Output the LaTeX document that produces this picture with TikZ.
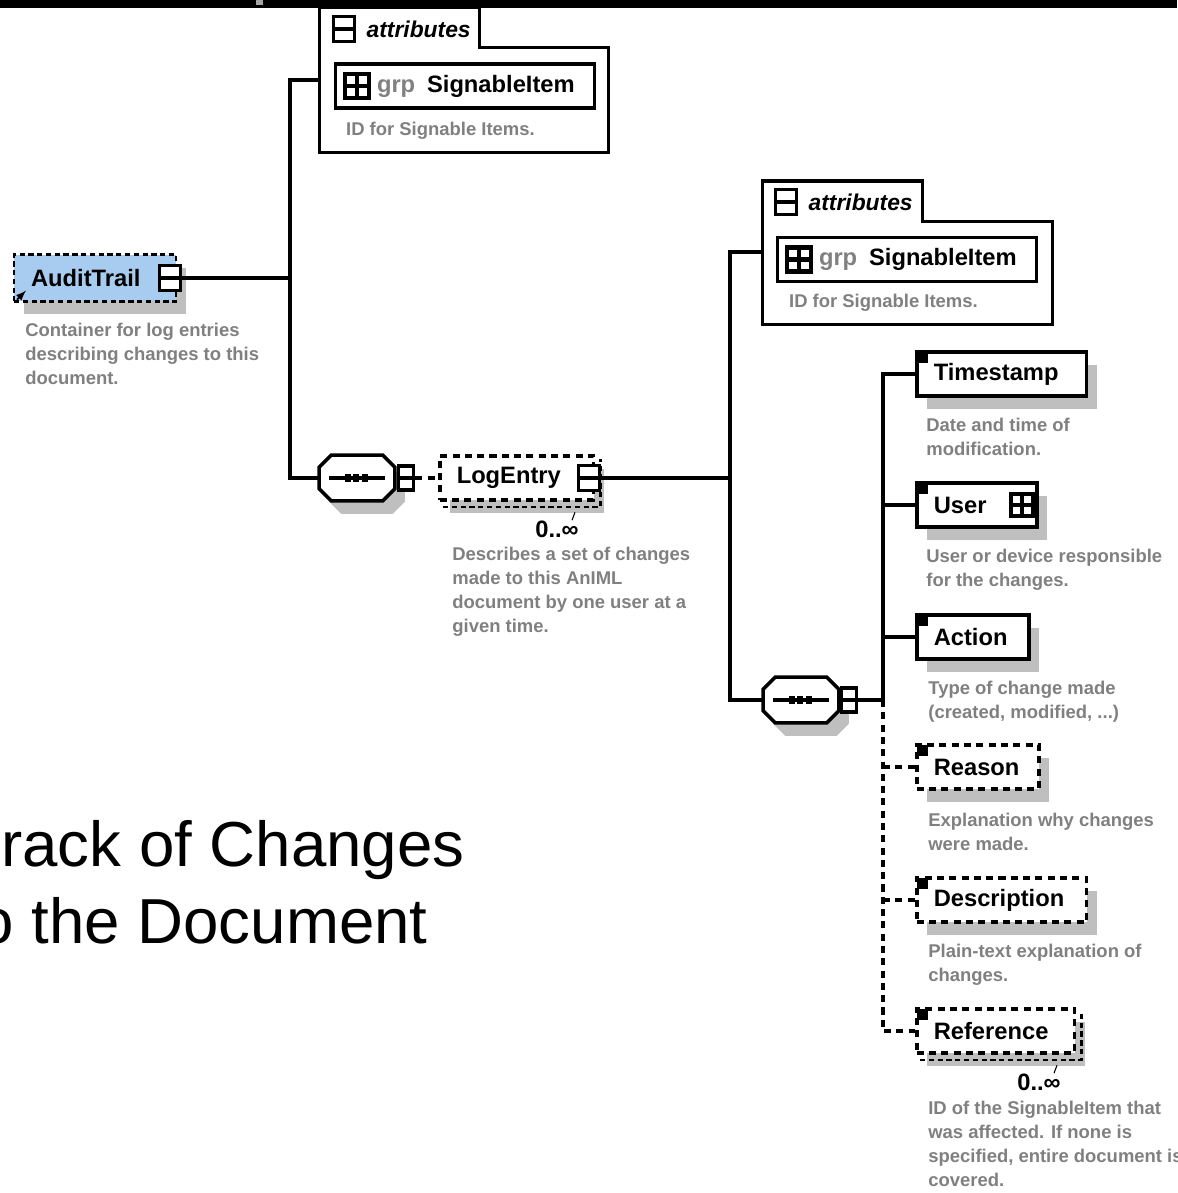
\documentclass[tikz,border=0pt]{standalone}
\usepackage{fontspec}
\setmainfont{Liberation Sans}
\usetikzlibrary{positioning,shadows}
\definecolor{auditblue}{RGB}{168,204,240}
\newcommand\elemfont{\fontsize{13.5}{16}\selectfont\bfseries}
\newcommand\attrfont{\fontsize{13}{15}\selectfont\bfseries\itshape}
\newcommand\descfont{\fontsize{10.5}{13.6}\selectfont\bfseries}
\newcommand\titlefont{\fontsize{36.2}{44}\selectfont}

\begin{document}
\begin{tikzpicture}[x=0.02cm,y=-0.02cm,node distance=0.4cm]
\tikzset{
  conn/.style={line width=2pt},
  optconn/.style={line width=2pt,dash pattern=on 4pt off 3pt},
  boxshadow/.style={drop shadow={shadow xshift=0.2cm,shadow yshift=-0.26cm,fill=black!25,opacity=1}},
  elembox/.style={draw,line width=2pt,fill=white,boxshadow,anchor=west,minimum height=0.88cm,text width=#1,inner xsep=0.34cm,align=left,font=\elemfont},
  optbox/.style={elembox=#1,dash pattern=on 4pt off 3pt},
  flagged/.style={path picture={\fill[black] (path picture bounding box.north west) rectangle ++(0.22cm,-0.22cm);}},
  grpbox/.style={draw,line width=2pt,fill=white,minimum height=0.88cm,text width=4.62cm,inner xsep=0.28cm,align=left,font=\elemfont},
  desc/.style={anchor=north west,inner sep=0pt,align=left,text=black!50,font=\descfont},
  mult/.style={inner sep=0pt,font=\elemfont},
  minusicon/.style={draw,line width=2pt,fill=white,inner sep=0pt,minimum width=0.42cm,minimum height=0.5cm,path picture={\draw[line width=2pt] (path picture bounding box.west) -- (path picture bounding box.east);}},
  plusicon/.style={draw,line width=2.4pt,fill=white,inner sep=0pt,minimum size=0.48cm,path picture={\draw[line width=2.4pt] (path picture bounding box.west) -- (path picture bounding box.east) (path picture bounding box.north) -- (path picture bounding box.south);}},
  seqicon/.style={minusicon,minimum width=0.3cm,minimum height=0.48cm},
  seqbox/.style={inner sep=0pt,minimum width=1.5cm,minimum height=0.9cm},
  attrtab/.style={anchor=south west,inner sep=0pt,minimum width=3.18cm,minimum height=0.8cm}
}
\useasboundingbox (0,0) rectangle (1177,1193);
\fill[white] (0,0) rectangle (1177,1193);
\fill (0,0) rectangle (1177,8);
\fill[black!35] (256,0) rectangle (263,5);

\node[inner sep=0pt,minimum width=5.76cm,minimum height=2.08cm] (attrA) at (464,100) {};
\node[attrtab] (attrAtab) at (attrA.north west) {};
\draw[conn,fill=white] (attrAtab.south east) -- (attrAtab.north east) -- (attrAtab.north west) -- (attrA.south west) -- (attrA.south east) -- (attrA.north east) -- cycle;
\node[minusicon] (attrAicon) at (344,29) {};
\node[right=0.2cm of attrAicon,inner sep=0pt,font=\attrfont] (attrAlabel) {attributes};
\node[grpbox] (grpA) at (465,86) {\hspace*{0.55cm}{\color{black!50}grp}\hspace{0.5em}SignableItem};
\node[plusicon] (grpAicon) at ([xshift=0.46cm]grpA.west) {};
\node[desc,below=0.24cm of grpA.south west,anchor=north west,xshift=0.24cm] (grpAdesc) {ID for Signable Items.};

\node[elembox=2.56cm,fill=auditblue,line width=1.2pt,dash pattern=on 3pt off 2pt,minimum height=0.94cm] (audit) at (13,278) {AuditTrail};
\node[minusicon] (auditicon) at (170,278) {};
\draw[-latex,line width=1pt] ([shift={(4,-3)}]audit.south west) -- ++(9,-9);
\node[desc,below=0.4cm of audit.south west,anchor=north west,xshift=0.24cm] (auditdesc) {Container for log entries\\describing changes to this\\document.};

\node[seqbox] (seqA) at (357,478) {};
\node[seqbox] (seqB) at (801,700) {};
\foreach \s in {seqA,seqB} {
  \draw[conn,fill=white,boxshadow] ([xshift=0.24cm]\s.north west) -- ([xshift=-0.24cm]\s.north east) -- ([yshift=-0.24cm]\s.north east) -- ([yshift=0.24cm]\s.south east) -- ([xshift=-0.24cm]\s.south east) -- ([xshift=0.24cm]\s.south west) -- ([yshift=0.24cm]\s.south west) -- ([yshift=-0.24cm]\s.north west) -- cycle;
  \draw[conn] ([xshift=-0.56cm]\s.center) -- ([xshift=0.56cm]\s.center);
  \draw[line width=5pt,dash pattern=on 3.5pt off 1.5pt] ([xshift=-0.25cm]\s.center) -- ([xshift=0.25cm]\s.center);
}

\coordinate (forkA) at (290,278);
\coordinate (tapA) at (290,80);
\node[seqicon] (seqAicon) at (406,478) {};
\node[optbox=2.4cm] (logentry) at (438,478) {LogEntry};
\draw[line width=1.4pt,dash pattern=on 3pt off 2pt] ([shift={(5,5)}]logentry.south west) -- ([shift={(5,5)}]logentry.south east) -- ([shift={(5,5)}]logentry.north east);
\node[minusicon] (logicon) at (589,478) {};
\node[mult] (multA) at (557,529) {0..∞};
\draw[line width=0.6pt] ([xshift=0.3cm]multA.north) -- ++(3,-8);
\node[desc,xshift=0.28cm,yshift=-0.18cm] (logdesc) at (logentry.west |- multA.south) {Describes a set of changes\\made to this AnIML\\document by one user at a\\given time.};
\draw[conn] (auditicon.east) -- (forkA);
\draw[conn] (attrA.west |- tapA) -- (tapA) -- (forkA) |- (seqA.west);
\draw[optconn] (seqAicon.east) -- (logentry.west);

\node[inner sep=0pt,minimum width=5.78cm,minimum height=2.04cm] (attrB) at (907.5,273) {};
\node[attrtab] (attrBtab) at (attrB.north west) {};
\draw[conn,fill=white] (attrBtab.south east) -- (attrBtab.north east) -- (attrBtab.north west) -- (attrB.south west) -- (attrB.south east) -- (attrB.north east) -- cycle;
\node[minusicon] (attrBicon) at (786,202) {};
\node[right=0.2cm of attrBicon,inner sep=0pt,font=\attrfont] (attrBlabel) {attributes};
\node[grpbox] (grpB) at (907,259.5) {\hspace*{0.55cm}{\color{black!50}grp}\hspace{0.5em}SignableItem};
\node[plusicon] (grpBicon) at ([xshift=0.46cm]grpB.west) {};
\node[desc,below=0.22cm of grpB.south west,anchor=north west,xshift=0.26cm] (grpBdesc) {ID for Signable Items.};

\coordinate (forkB) at (730,478);
\coordinate (tapB) at (730,252);
\node[seqicon] (seqBicon) at (849,700) {};
\draw[conn] (logicon.east) -- (forkB);
\draw[conn] (attrB.west |- tapB) -- (tapB) -- (forkB) |- (seqB.west);

\coordinate (forkC) at (883,700);
\node[elembox=2.72cm,flagged] (timestamp) at (915,374) {Timestamp};
\node[desc,below=0.4cm of timestamp.south west,anchor=north west,xshift=0.22cm] (timestampdesc) {Date and time of\\modification.};
\node[elembox=1.72cm,flagged] (user) at (915,505) {User};
\node[plusicon,minimum size=0.44cm] (usericon) at (1022,505) {};
\node[desc,below=0.4cm of user.south west,anchor=north west,xshift=0.22cm] (userdesc) {User or device responsible\\for the changes.};
\node[elembox=1.56cm,flagged] (action) at (915,637) {Action};
\node[desc,below=0.4cm of action.south west,anchor=north west,xshift=0.26cm] (actiondesc) {Type of change made\\(created, modified, ...)};
\node[optbox=1.76cm,flagged] (reason) at (915,767) {Reason};
\node[desc,below=0.44cm of reason.south west,anchor=north west,xshift=0.26cm] (reasondesc) {Explanation why changes\\were made.};
\node[optbox=2.72cm,flagged] (description) at (915,900) {Description};
\node[desc,below=0.4cm of description.south west,anchor=north west,xshift=0.26cm] (descriptiondesc) {Plain-text explanation of\\changes.};
\node[optbox=2.48cm,flagged] (reference) at (915,1031) {Reference};
\draw[line width=1.4pt,dash pattern=on 3pt off 2pt] ([shift={(5,5)}]reference.south west) -- ([shift={(5,5)}]reference.south east) -- ([shift={(5,5)}]reference.north east);
\node[mult] (multB) at (1039,1082) {0..∞};
\draw[line width=0.6pt] ([xshift=0.3cm]multB.north) -- ++(3,-8);
\node[desc,xshift=0.26cm,yshift=-0.2cm] (referencedesc) at (reference.west |- multB.south) {ID of the SignableItem that\\was affected. If none is\\specified, entire document is\\covered.};
\draw[conn] (seqBicon.east) -- (forkC);
\draw[conn] (forkC) |- (timestamp.west);
\draw[conn] (forkC |- user.west) -- (user.west);
\draw[conn] (forkC |- action.west) -- (action.west);
\draw[optconn] (forkC) |- (reference.west);
\draw[optconn] (forkC |- reason.west) -- (reason.west);
\draw[optconn] (forkC |- description.west) -- (description.west);

\node[anchor=base west,inner sep=0pt,font=\titlefont] (titleA) at (1,866) {rack of Changes};
\node[anchor=base east,inner sep=0pt,font=\titlefont] (titleB) at (428,943) {o the Document};
\end{tikzpicture}
\end{document}
